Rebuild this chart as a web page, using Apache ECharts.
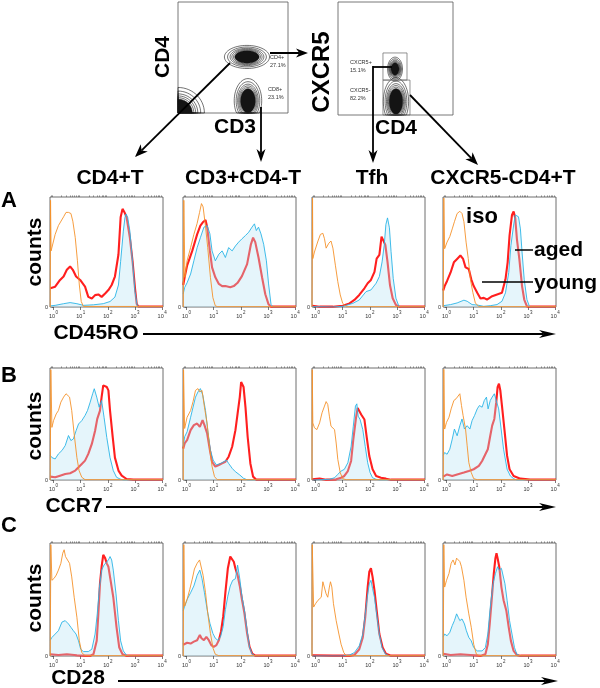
<!DOCTYPE html>
<html><head><meta charset="utf-8">
<script src="https://cdn.jsdelivr.net/npm/echarts@6/dist/echarts.min.js"></script>
<style>html,body{margin:0;padding:0;background:#fff}#c{width:600px;height:688px}</style>
</head><body><div id="c"></div><script>
// ---------- labels ----------
const rowLetters = ['A','B','C'];
const markerNames = ['CD45RO','CCR7','CD28'];
const subsetNames = ['CD4+T','CD3+CD4-T','Tfh','CXCR5-CD4+T'];
const legendNames = ['iso','aged','young'];
const decadeTicks = [0,1,2,3,4];        // log10 positions of 10^0..10^4
const yTicks = [0];
const plot1Axis = ['CD3','CD4'];
const plot2Axis = ['CD4','CXCR5'];
const plot1Gates = ['CD4+','CD8+'];
const plot1Pct = ['27.1%','23.1%'];
const plot2Gates = ['CXCR5+','CXCR5-'];
const plot2Pct = ['15.1%','82.2%'];
// contour populations: [cx, cy, rx, ry] in 0-100 plot units
const plot1Pops = [[62.7,50.5,20.5,10.4],[63.6,11,12.5,20],[0,0,24,23]];
const plot2Pops = [[49.6,40.7,6.5,10.5],[50.4,12,11,21]];
const plot2GateBoxes = [[39.1,30.9,60,54.9],[39.1,0,62.6,30.9]];
const contourLevels = [1,0.86,0.75,0.67,0.6,0.54];

// ---------- histogram data: [log10 intensity, % of max] ----------
const A1_iso=[[-0.12,0],[-0.11,97],[-0.09,51],[0.06,66],[0.18,74],[0.37,82],[0.46,86],[0.55,86],[0.64,85],[0.71,78],[0.80,63],[0.88,42],[0.95,20],[1.02,5],[1.10,0.5],[4.03,0.5]];
const A1_young=[[-0.12,17],[-0.06,17],[0.06,18.5],[0.24,24.6],[0.37,27.7],[0.49,33.8],[0.61,36.9],[0.71,33.8],[0.83,27.7],[0.98,24.6],[1.16,18.5],[1.28,9.2],[1.41,7.7],[1.53,10.8],[1.65,11.4],[1.77,9.2],[1.90,12.3],[2.02,15.4],[2.14,20],[2.26,27.7],[2.39,47.7],[2.47,81.5],[2.54,89.2],[2.61,86.2],[2.69,81.5],[2.81,63],[2.91,41.5],[3.00,17],[3.06,3],[3.12,0.5],[4.03,0.5]];
const A1_aged=[[-0.12,1],[0.06,1.5],[0.37,3],[0.61,4],[0.86,3],[1.10,1.5],[1.47,2],[1.83,3],[2.08,5],[2.26,9],[2.39,20],[2.47,41.5],[2.57,69],[2.63,81.5],[2.67,84.6],[2.73,81.5],[2.81,69],[2.91,41.5],[3.00,14],[3.08,1.5],[3.16,0],[4.03,0]];

const A2_iso=[[-0.12,0],[-0.1,97],[-0.06,27],[0.02,42],[0.15,54],[0.27,66],[0.39,76],[0.48,86],[0.55,94],[0.61,91],[0.70,73],[0.78,54],[0.88,27],[0.97,8.5],[1.06,1],[1.15,0.3],[4.03,0.3]];
const A2_young=[[-0.12,20],[-0.07,27],[0.02,37.5],[0.21,51],[0.39,66],[0.51,74],[0.60,77],[0.70,79],[0.76,72.6],[0.86,51],[0.94,36],[1.06,27],[1.19,21],[1.31,19],[1.43,19],[1.61,18],[1.74,19],[1.88,22],[2.04,28],[2.23,39],[2.37,57],[2.45,63],[2.53,59],[2.65,45],[2.78,27],[2.90,11.6],[3.02,2.4],[3.11,0.3],[4.03,0.3]];
const A2_aged=[[-0.12,12],[-0.07,17.7],[0.02,22],[0.15,30],[0.27,42],[0.39,54],[0.51,63],[0.64,72.6],[0.76,74],[0.86,66.5],[0.94,51],[1.06,42],[1.19,48],[1.31,51],[1.43,45],[1.55,54],[1.68,51],[1.80,55.5],[1.92,59],[2.04,62],[2.17,65],[2.29,68],[2.41,72.6],[2.50,75.6],[2.57,69.5],[2.65,72.6],[2.74,66.5],[2.84,57],[2.94,42],[3.02,21],[3.11,2.4],[3.18,0],[4.03,0]];

const A3_iso=[[-0.13,0],[-0.11,99],[-0.10,44],[-0.04,50],[0.09,60],[0.18,66],[0.27,67],[0.33,62],[0.39,53.5],[0.49,58],[0.57,60],[0.64,53.5],[0.73,38],[0.82,23],[0.91,11],[1.00,3.3],[1.13,0.3],[4.03,0.3]];
const A3_young=[[-0.12,1.2],[0.15,0.3],[0.64,0.3],[1.00,1.2],[1.25,3.3],[1.43,6.4],[1.61,11],[1.80,17],[1.92,21.6],[2.04,24.6],[2.17,32],[2.25,44],[2.35,47.4],[2.43,64],[2.50,65.7],[2.57,56.5],[2.65,41],[2.74,20],[2.84,7.9],[2.96,1.8],[3.08,0.3],[4.03,0.3]];
const A3_aged=[[-0.12,0.3],[0.64,0],[1.00,0.6],[1.37,3.3],[1.61,6.4],[1.86,14],[2.04,15.5],[2.23,21.6],[2.35,27.7],[2.45,41],[2.53,56.5],[2.59,75],[2.65,81],[2.72,72],[2.78,50.5],[2.86,26],[2.96,8],[3.06,1.2],[3.14,0],[4.03,0]];

const A4_iso=[[-0.12,0],[-0.1,99],[-0.07,53],[0.02,59],[0.12,64],[0.21,71],[0.29,77.5],[0.39,85],[0.49,87],[0.57,85],[0.64,77.5],[0.72,59],[0.80,44],[0.88,25],[0.97,13],[1.06,3.7],[1.19,0.3],[4.03,0.3]];
const A4_young=[[-0.12,15],[-0.07,19],[0.02,23.7],[0.15,31.4],[0.27,40.6],[0.39,43.7],[0.51,46.8],[0.61,43.7],[0.70,36],[0.82,34.5],[0.91,25.2],[1.00,19],[1.13,12.9],[1.25,7.7],[1.37,8.3],[1.49,6.8],[1.68,9.8],[1.86,11.4],[2.04,12.9],[2.17,25.2],[2.25,40.6],[2.32,65],[2.41,83.7],[2.47,86.8],[2.53,80.6],[2.59,62],[2.68,43.7],[2.78,19],[2.86,6.8],[2.96,0.6],[3.06,0.3],[4.03,0.3]];
const A4_aged=[[-0.12,1.2],[-0.07,1.2],[0.15,2.2],[0.39,3.7],[0.64,6.2],[0.76,5.2],[0.94,2.2],[1.13,1.8],[1.37,0.6],[1.61,1.2],[1.86,2.2],[2.04,5.2],[2.17,12.9],[2.29,31.4],[2.37,56],[2.47,74.5],[2.53,83.7],[2.59,85],[2.65,82],[2.72,71],[2.78,50],[2.86,25],[2.96,6.8],[3.06,0],[4.03,0]];

const B1_iso=[[-0.12,0],[-0.1,98.5],[-0.06,47],[0,53],[0.1,59],[0.18,62],[0.27,69.5],[0.37,74],[0.46,77],[0.53,78.5],[0.59,74],[0.67,62],[0.76,41],[0.86,20],[0.94,8.4],[1.04,2.4],[1.16,0.3],[4.03,0.3]];
const B1_aged=[[-0.12,22],[-0.06,20],[0.06,18.8],[0.18,23.3],[0.31,26.3],[0.43,30.7],[0.55,39.7],[0.64,35.2],[0.73,36.7],[0.83,44],[0.92,50],[1.04,53],[1.16,57.6],[1.25,62],[1.35,69.5],[1.44,77],[1.50,81.5],[1.59,74],[1.68,65],[1.77,71],[1.86,56],[1.96,38],[2.08,20],[2.20,8.4],[2.32,2.4],[2.45,0.9],[2.57,0],[4.03,0]];
const B1_young=[[-0.12,3],[-0.06,3.9],[0.06,2.4],[0.24,3.9],[0.43,5.4],[0.61,6],[0.80,8.4],[0.92,11.3],[1.04,14.3],[1.16,17.3],[1.28,23.3],[1.41,32.2],[1.53,44],[1.61,54.6],[1.71,62],[1.77,74],[1.83,84.5],[1.90,86],[1.96,83],[2.02,80],[2.08,62],[2.18,38],[2.26,20],[2.39,8.4],[2.51,3.9],[2.69,0.9],[2.94,0.3],[4.03,0.3]];

const B2_iso=[[-0.12,0],[-0.11,98.5],[-0.07,46],[0.02,56],[0.15,62],[0.24,70],[0.33,80],[0.42,81.6],[0.49,78.6],[0.57,80],[0.66,65],[0.76,50],[0.86,26.7],[0.94,12],[1.03,3],[1.13,0.3],[4.03,0.3]];
const B2_aged=[[-0.12,30],[-0.07,38.6],[0.02,43],[0.15,56],[0.24,65],[0.33,74],[0.42,78.6],[0.51,81.6],[0.60,75.7],[0.70,62],[0.78,44.5],[0.88,26.7],[0.98,17.8],[1.10,13.4],[1.25,14.8],[1.37,16.3],[1.47,17.8],[1.55,14.8],[1.68,10.4],[1.80,7.4],[1.96,4.5],[2.10,1.5],[2.25,0],[4.03,0]];
const B2_young=[[-0.12,28],[-0.07,32.6],[0.02,35.6],[0.15,44.5],[0.27,49],[0.39,50.4],[0.49,47.5],[0.59,53.4],[0.66,49],[0.76,41.5],[0.86,26.7],[0.94,16.3],[1.06,11.9],[1.19,13.4],[1.31,14.8],[1.43,16.3],[1.55,20.8],[1.68,29.7],[1.80,44.5],[1.88,59.3],[1.96,74],[2.01,87.5],[2.06,89],[2.10,83],[2.17,65],[2.25,38.6],[2.35,14.8],[2.45,3],[2.57,0.3],[4.03,0.3]];

const B3_iso=[[-0.13,0],[-0.12,98.5],[-0.1,51],[-0.04,46.6],[0.05,45],[0.15,51],[0.24,60],[0.33,66],[0.39,70],[0.45,67.4],[0.51,57],[0.57,48],[0.64,49.6],[0.70,45],[0.76,33],[0.82,18.4],[0.91,6.5],[1.00,1.2],[1.13,0.3],[4.03,0.3]];
const B3_aged=[[-0.12,0],[0.51,0.6],[0.70,2],[0.82,5],[0.94,8],[1.06,9.5],[1.19,15.4],[1.31,30],[1.39,48],[1.47,66],[1.52,68],[1.57,57],[1.64,54],[1.74,45],[1.83,30],[1.92,15.4],[2.01,6.5],[2.10,2],[2.23,0.6],[2.35,0],[4.03,0]];
const B3_young=[[-0.12,0.6],[0.15,1.2],[0.39,0.3],[0.76,0.6],[0.94,2],[1.06,3.6],[1.19,8],[1.31,17],[1.39,36],[1.49,55.5],[1.55,64.4],[1.61,63],[1.68,58.5],[1.74,58.5],[1.80,54],[1.88,39],[1.98,21.4],[2.10,9.5],[2.23,3.6],[2.41,2],[2.59,1.2],[2.78,0.3],[4.03,0.3]];

const B4_iso=[[-0.12,0],[-0.1,98.8],[-0.07,45.5],[0,51.5],[0.09,56],[0.17,63.5],[0.27,71],[0.35,72.5],[0.42,74],[0.49,77],[0.55,66.5],[0.61,57.5],[0.70,45.5],[0.76,30.5],[0.82,15.6],[0.91,6.6],[1.00,1.2],[1.13,0.3],[4.03,0.3]];
const B4_aged=[[-0.12,22],[-0.07,24.5],[0.02,23],[0.12,27.5],[0.21,36.5],[0.29,45.5],[0.39,39.5],[0.49,48.5],[0.57,54.5],[0.66,45.5],[0.76,48.5],[0.86,45.5],[0.94,53],[1.03,57.5],[1.13,63.5],[1.21,66.5],[1.31,65],[1.39,71],[1.47,74],[1.53,63.5],[1.61,71],[1.68,74],[1.76,77],[1.83,75.5],[1.92,63.5],[2.01,45.5],[2.10,27.5],[2.23,9.6],[2.35,3.6],[2.47,1.2],[2.59,0],[4.03,0]];
const B4_young=[[-0.12,3],[-0.07,3.6],[0.02,5],[0.21,3.6],[0.39,5],[0.64,6.6],[0.82,8],[1.00,9.6],[1.19,12.6],[1.31,17],[1.43,23],[1.52,27.5],[1.61,39.5],[1.68,48.5],[1.76,54.5],[1.83,69.5],[1.88,83],[1.93,86],[1.98,80],[2.04,66.5],[2.13,45.5],[2.23,21.5],[2.32,9.6],[2.47,3.6],[2.72,1.2],[3.08,0.3],[4.03,0.3]];

const C1_iso=[[-0.12,0],[-0.1,98.5],[-0.06,67],[0.02,68.7],[0.1,71.6],[0.18,76],[0.27,82],[0.34,91],[0.39,94],[0.44,88],[0.51,86.6],[0.59,82],[0.67,70],[0.76,52],[0.86,34.3],[0.95,13.4],[1.04,3],[1.16,0.3],[4.03,0.3]];
const C1_aged=[[-0.12,14],[-0.06,16.4],[0.06,19.4],[0.18,22.4],[0.31,30],[0.43,31.3],[0.55,28.4],[0.64,25.4],[0.73,22.4],[0.83,19.4],[0.92,13.4],[1.00,6],[1.10,3.9],[1.28,3.9],[1.41,6],[1.53,19.4],[1.61,37.3],[1.69,61],[1.77,76],[1.86,80.6],[1.93,79],[2.02,85],[2.08,88],[2.14,85],[2.20,76],[2.30,55],[2.39,31.3],[2.47,13.4],[2.57,4.5],[2.69,0.6],[2.81,0],[4.03,0]];
const C1_young=[[-0.12,1.5],[0.18,0.9],[0.49,1.5],[0.86,0.6],[1.16,0.3],[1.35,0.3],[1.47,1.5],[1.59,13.4],[1.65,37.3],[1.71,64],[1.77,79],[1.83,89.5],[1.90,86.6],[1.96,82],[2.02,79],[2.08,70],[2.20,52],[2.32,25.4],[2.42,7.5],[2.54,1.5],[2.69,0.3],[4.03,0.3]];

const C2_iso=[[-0.12,0],[-0.1,98.5],[-0.07,44],[0.02,50],[0.12,59],[0.21,68],[0.29,77],[0.39,82],[0.48,85],[0.55,83.4],[0.61,71.4],[0.70,56],[0.78,38],[0.88,20],[0.98,6.6],[1.06,1.5],[1.19,0.3],[4.03,0.3]];
const C2_aged=[[-0.12,40],[-0.07,44],[0.02,50],[0.15,56],[0.27,62],[0.39,71.4],[0.49,76],[0.57,68.4],[0.66,56],[0.76,41],[0.86,29],[0.97,20],[1.06,15.7],[1.15,14],[1.25,17],[1.35,26],[1.43,41],[1.52,53],[1.61,62],[1.70,67],[1.80,68.4],[1.88,80.4],[1.96,68.4],[2.04,53],[2.13,41],[2.23,23],[2.32,8],[2.41,2],[2.53,0],[4.03,0]];
const C2_young=[[-0.12,10],[-0.07,11],[0.02,11.7],[0.15,11],[0.27,12.7],[0.39,14],[0.49,18.7],[0.55,15.7],[0.64,14],[0.73,17],[0.82,14],[0.91,9.6],[1.00,8],[1.10,9.6],[1.19,14],[1.27,21.7],[1.35,35],[1.43,56],[1.52,77.4],[1.61,88],[1.68,86.4],[1.74,83.4],[1.80,77.4],[1.88,71.4],[1.96,62],[2.04,50],[2.13,38],[2.23,20],[2.32,8],[2.42,2],[2.53,0.3],[4.03,0.3]];

const C3_iso=[[-0.13,0],[-0.12,98.5],[-0.07,43.3],[0,46.3],[0.09,49.3],[0.15,49.3],[0.21,52],[0.27,65.7],[0.33,67],[0.39,55],[0.45,52],[0.51,61],[0.55,65.7],[0.60,61],[0.66,46.3],[0.76,31.3],[0.86,19.4],[0.94,10.4],[1.04,3],[1.13,0.3],[4.03,0.3]];
const C3_aged=[[-0.12,0],[1.00,0],[1.25,0.9],[1.43,3],[1.61,9],[1.74,19.4],[1.83,37.3],[1.92,55],[1.98,64],[2.04,67],[2.10,59.7],[2.17,52],[2.25,37.3],[2.35,19.4],[2.45,7.5],[2.57,2],[2.72,0],[4.03,0]];
const C3_young=[[-0.12,0.6],[0.64,0.3],[1.25,0.3],[1.43,0.9],[1.61,6],[1.74,16.4],[1.83,34.3],[1.92,61],[1.98,74.6],[2.04,77.6],[2.10,70],[2.17,58],[2.25,40.3],[2.35,19.4],[2.47,7.5],[2.59,2],[2.78,0.3],[4.03,0.3]];

const C4_iso=[[-0.12,0],[-0.1,98.5],[-0.07,61],[0,67],[0.09,73],[0.17,82],[0.24,85],[0.31,80.6],[0.37,86.6],[0.43,88],[0.49,83.6],[0.55,79],[0.64,67],[0.72,52],[0.82,37.3],[0.91,25.4],[1.00,10.4],[1.10,1.5],[1.19,0.3],[4.03,0.3]];
const C4_aged=[[-0.12,17],[-0.07,19.4],[0.02,17.9],[0.12,20.9],[0.21,26.9],[0.29,31.3],[0.37,37.3],[0.43,34.3],[0.49,31.3],[0.57,32.8],[0.66,28.4],[0.73,22.4],[0.82,16.4],[0.91,13.4],[1.00,7.5],[1.13,4.5],[1.31,4.5],[1.43,7.5],[1.52,19.4],[1.61,43.3],[1.71,64],[1.80,73],[1.88,79],[1.94,76],[2.02,77.6],[2.08,76],[2.15,64],[2.23,49.3],[2.32,31.3],[2.41,19.4],[2.50,7.5],[2.59,1.5],[2.72,0],[4.03,0]];
const C4_young=[[-0.12,2],[-0.07,2],[0.15,0.9],[0.51,1.5],[0.88,0.9],[1.25,0.3],[1.43,1.5],[1.52,10.4],[1.59,28.4],[1.68,55],[1.74,73],[1.80,86.6],[1.84,91],[1.88,86.6],[1.94,79],[2.02,61],[2.10,49.3],[2.20,40.3],[2.29,25.4],[2.37,13.4],[2.47,4.5],[2.59,0.9],[2.72,0.3],[4.03,0.3]];

const panels = [
  [A1_iso,A1_aged,A1_young],[A2_iso,A2_aged,A2_young],[A3_iso,A3_aged,A3_young],[A4_iso,A4_aged,A4_young],
  [B1_iso,B1_aged,B1_young],[B2_iso,B2_aged,B2_young],[B3_iso,B3_aged,B3_young],[B4_iso,B4_aged,B4_young],
  [C1_iso,C1_aged,C1_young],[C2_iso,C2_aged,C2_young],[C3_iso,C3_aged,C3_young],[C4_iso,C4_aged,C4_young]
];

// ---------- layout ----------
const colLeft=[50,183,312,443], colW=113;
const rowTop=[197,368,543], rowH=[110,112,113];
const FONT='"Liberation Sans", Arial, sans-serif';
const minorTicks=[];
for(let d=0;d<4;d++){for(let m=2;m<=9;m++){minorTicks.push(d+Math.log10(m));}}
minorTicks.push(Math.log10(0.8),Math.log10(0.9));

const grid=[], xAxis=[], yAxis=[], series=[];
const COL_ISO='#f5922a', COL_AGED='#2ab4e6', COL_YOUNG='#ff1f1f';

for(let r=0;r<3;r++){
  for(let c=0;c<4;c++){
    const gi=r*4+c;
    grid.push({left:colLeft[c],top:rowTop[r],width:colW,height:rowH[r],show:true,borderColor:'#4a4a4a',borderWidth:0.8,backgroundColor:'transparent',containLabel:false,outerBoundsMode:'none'});
    xAxis.push({gridIndex:gi,type:'value',min:-0.13,max:4.03,axisLine:{show:false},splitLine:{show:false},
      axisTick:{show:true,customValues:decadeTicks,length:3,lineStyle:{color:'#444',width:0.7}},
      axisLabel:{show:true,customValues:decadeTicks,margin:3,color:'#333',fontFamily:FONT,
        formatter:v=>'{b|10}{s|'+Math.round(v)+'}',
        rich:{b:{fontSize:5.5,fontFamily:FONT,color:'#333',verticalAlign:'bottom'},s:{fontSize:4.5,fontFamily:FONT,color:'#333',padding:[0,0,4,0.5]}}}});
    xAxis.push({gridIndex:gi,type:'value',min:-0.13,max:4.03,axisLine:{show:false},splitLine:{show:false},axisLabel:{show:false},
      axisTick:{show:true,customValues:minorTicks,length:1.6,lineStyle:{color:'#555',width:0.6}}});
    yAxis.push({gridIndex:gi,type:'value',min:0,max:100,axisLine:{show:false},splitLine:{show:false},
      axisTick:{show:true,customValues:yTicks,length:2,lineStyle:{color:'#444',width:0.7}},
      axisLabel:{show:true,customValues:yTicks,margin:2,fontSize:5.5,color:'#333',fontFamily:FONT}});
    const p=panels[gi];
    series.push({type:'line',xAxisIndex:2*gi,yAxisIndex:gi,data:p[2],symbol:'none',silent:true,animation:false,
      lineStyle:{color:COL_YOUNG,width:2.1},z:2});
    series.push({type:'line',xAxisIndex:2*gi,yAxisIndex:gi,data:p[1],symbol:'none',silent:true,animation:false,
      lineStyle:{color:COL_AGED,width:0.9},areaStyle:{color:'rgba(180,226,245,0.5)',origin:'start'},z:3});
    series.push({type:'line',xAxisIndex:2*gi,yAxisIndex:gi,data:p[0],symbol:'none',silent:true,animation:false,
      lineStyle:{color:COL_ISO,width:0.9},z:4});
  }
}

// contour grids
grid.push({left:178,top:2,width:110,height:111,show:true,borderColor:'#555',borderWidth:0.8,containLabel:false,outerBoundsMode:'none'});
grid.push({left:338,top:2,width:115,height:113,show:true,borderColor:'#555',borderWidth:0.8,containLabel:false,outerBoundsMode:'none'});
[12,13].forEach(gi=>{
  xAxis.push({gridIndex:gi,type:'value',min:0,max:100,show:false});
  yAxis.push({gridIndex:gi,type:'value',min:0,max:100,show:false});
});
function contourData(pops){
  const out=[];
  pops.forEach(p=>{contourLevels.forEach((l,i)=>{out.push([p[0],p[1],p[2]*l,p[3]*l,i===contourLevels.length-1?1:0]);});});
  return out;
}
function ellipseItem(params,api){
  const cx=api.value(0),cy=api.value(1),rx=api.value(2),ry=api.value(3),f=api.value(4);
  const pts=[];
  for(let k=0;k<=60;k++){
    const a=k/60*2*Math.PI;
    let x=cx+rx*Math.cos(a), y=cy+ry*Math.sin(a);
    x=Math.max(0,Math.min(100,x)); y=Math.max(0,Math.min(100,y));
    pts.push(api.coord([x,y]));
  }
  return {type:'polygon',shape:{points:pts},style:{fill:f?'#141414':'none',stroke:'#141414',lineWidth:0.6}};
}
series.push({type:'custom',xAxisIndex:24,yAxisIndex:12,data:contourData(plot1Pops),renderItem:ellipseItem,silent:true,animation:false});
series.push({type:'custom',xAxisIndex:25,yAxisIndex:13,data:contourData(plot2Pops),renderItem:ellipseItem,silent:true,animation:false});
series.push({type:'custom',xAxisIndex:25,yAxisIndex:13,data:plot2GateBoxes,silent:true,animation:false,
  renderItem:(params,api)=>{
    const a=api.coord([api.value(0),api.value(3)]), b=api.coord([api.value(2),api.value(1)]);
    return {type:'rect',shape:{x:a[0],y:a[1],width:b[0]-a[0],height:b[1]-a[1]},style:{fill:'none',stroke:'#666',lineWidth:0.7}};
  }});

// ---------- graphic: text and arrows ----------
const g=[];
function T(text,x,y,size,o){
  o=o||{};
  g.push({type:'text',x:x,y:y,rotation:o.rot||0,z:100,silent:true,
    style:{text:text,font:(o.weight||'bold')+' '+size+'px '+FONT,fill:o.color||'#000',
      textAlign:o.align||'center',textVerticalAlign:'middle',align:o.align||'center',verticalAlign:'middle'}});
}
function L(x1,y1,x2,y2,w){g.push({type:'line',z:100,silent:true,shape:{x1,y1,x2,y2},style:{stroke:'#000',lineWidth:w||2}});}
function arrow(x1,y1,x2,y2,hl,hw,w){
  const dx=x2-x1,dy=y2-y1,len=Math.hypot(dx,dy),ux=dx/len,uy=dy/len,nx=-uy,ny=ux;
  const bx=x2-ux*hl,by=y2-uy*hl,mx=x2-ux*hl*0.72,my=y2-uy*hl*0.72;
  L(x1,y1,mx,my,w);
  g.push({type:'polygon',z:100,silent:true,shape:{points:[[x2,y2],[bx+nx*hw/2,by+ny*hw/2],[mx,my],[bx-nx*hw/2,by-ny*hw/2]]},style:{fill:'#000'}});
}
// top dot plots
T(plot1Axis[1],163,57,21,{rot:Math.PI/2});
T(plot1Axis[0],235,127,21);
T(plot2Axis[1],322,72,24,{rot:Math.PI/2});
T(plot2Axis[0],396,128,21);
T(plot1Gates[0],270,57,5.5,{weight:'normal',align:'left',color:'#333'});
T(plot1Pct[0],270,65,5.5,{weight:'normal',align:'left',color:'#333'});
T(plot1Gates[1],268,89,5.5,{weight:'normal',align:'left',color:'#333'});
T(plot1Pct[1],268,97,5.5,{weight:'normal',align:'left',color:'#333'});
T(plot2Gates[0],350,62,5.5,{weight:'normal',align:'left',color:'#333'});
T(plot2Pct[0],350,70,5.5,{weight:'normal',align:'left',color:'#333'});
T(plot2Gates[1],350,90,5.5,{weight:'normal',align:'left',color:'#333'});
T(plot2Pct[1],350,98,5.5,{weight:'normal',align:'left',color:'#333'});
arrow(270,53,308,53,12,9,2);
arrow(230,63,135,157,13,10,1.8);
arrow(261,107,261,162,13,9,1.8);
L(392,67,373,67,1.8);
arrow(373,66,373,163,13,9,1.8);
arrow(410,95,478,165,13,10,1.8);
// column headers
subsetNames.forEach((s,c)=>T(s,colLeft[c]+60,178,21));
// rows
const rowLetterY=[201,376,526], countsY=[252,426,598];
rowLetters.forEach((l,r)=>{T(l,9,rowLetterY[r],22);T('counts',35,countsY[r],21,{rot:Math.PI/2});});
T(markerNames[0],96,333,21); arrow(143,334,556,334,17,8,2);
T(markerNames[1],74,506,21); arrow(106,507,556,507,17,8,2);
T(markerNames[2],78,678,21); arrow(118,681,558,681,17,8,2);
// legend annotations
T(legendNames[0],482,217,22);
T(legendNames[1],534,250,21,{align:'left'}); L(515,250,533,250,1.5);
T(legendNames[2],534,283,21,{align:'left'}); L(482,282,533,282,1.5);

const chart=echarts.init(document.getElementById('c'),null,{renderer:'canvas'});
chart.setOption({animation:false,backgroundColor:'#fff',grid,xAxis,yAxis,series,graphic:{elements:g}});
</script></body></html>
